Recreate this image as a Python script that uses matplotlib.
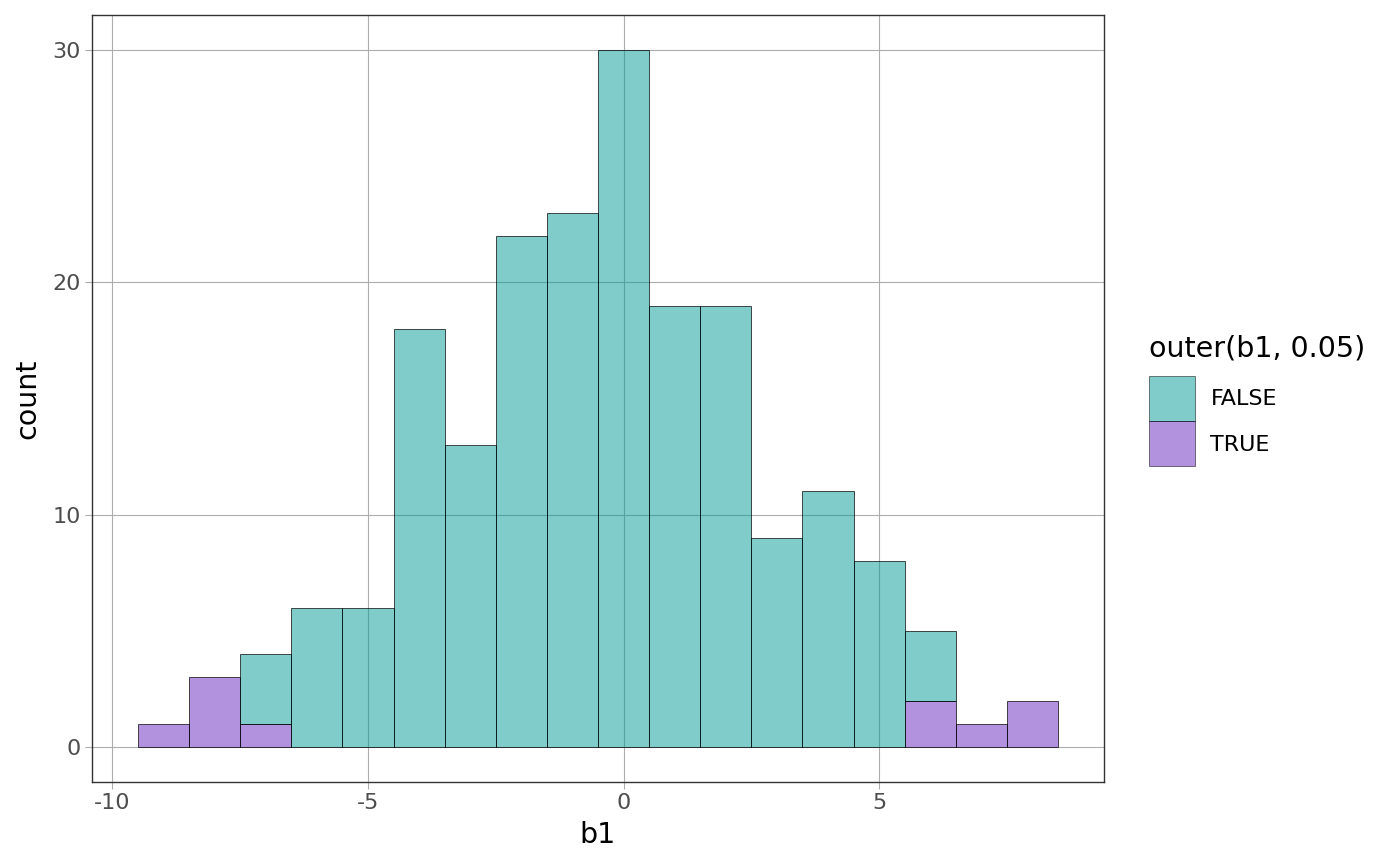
import numpy as np
import matplotlib.pyplot as plt
from matplotlib.patches import Patch

plt.rcParams['font.family'] = ['DejaVu Sans']
plt.rcParams['axes.unicode_minus'] = False

# bin centres (width 1) and counts per group
centres = [-9, -8, -7, -6, -5, -4, -3, -2, -1, 0, 1, 2, 3, 4, 5, 6, 7, 8]
n_true = [1, 3, 1, 0, 0, 0, 0, 0, 0, 0, 0, 0, 0, 0, 0, 2, 1, 2]
n_false = [0, 0, 3, 6, 6, 18, 13, 22, 23, 30, 19, 19, 9, 11, 8, 3, 0, 0]
groups = ['FALSE', 'TRUE']

teal = (0 / 255, 155 / 255, 151 / 255, 0.5)
purple = (103 / 255, 37 / 255, 193 / 255, 0.5)
edge = (0, 0, 0, 0.7)

fig = plt.figure(figsize=(14, 8.66), dpi=100)
ax = fig.add_axes([92 / 1400, 1 - 782 / 866, (1104 - 92) / 1400, (782 - 15) / 866])

x = np.array(centres)
t = np.array(n_true)
f = np.array(n_false)

# TRUE at the bottom, FALSE stacked on top (zero-height bars skipped)
mt = t > 0
ax.bar(x[mt], t[mt], width=1, color=purple, edgecolor=edge, linewidth=0.7, zorder=2)
mf = f > 0
ax.bar(x[mf], f[mf], bottom=t[mf], width=1, color=teal, edgecolor=edge, linewidth=0.7, zorder=2)

ax.set_xlim(-10.4, 9.4)
ax.set_ylim(-1.5, 31.5)
ax.set_xticks([-10, -5, 0, 5])
ax.set_yticks([0, 10, 20, 30])
ax.grid(True, color='#adadad', linewidth=0.8, zorder=1)
ax.set_axisbelow(True)
ax.tick_params(colors='#adadad', labelcolor='#4d4d4d', labelsize=16, length=5, width=0.8, pad=3)
for s in ax.spines.values():
    s.set_color('#333333')
    s.set_linewidth(1.0)

ax.set_xlabel('b1', fontsize=20.5, labelpad=6)
ax.set_ylabel('count', fontsize=20.5, labelpad=8)

handles = [Patch(facecolor=teal, edgecolor=(0, 0, 0, 0.5), linewidth=0.7),
           Patch(facecolor=purple, edgecolor=(0, 0, 0, 0.5), linewidth=0.7)]
leg = ax.legend(handles, groups, title='outer(b1, 0.05)', loc='center left',
                bbox_to_anchor=(1.036, 0.4975), frameon=False, fontsize=16,
                title_fontsize=20.5, handlelength=2.07, handleheight=2.74,
                labelspacing=0, handletextpad=0.68, borderaxespad=0,
                alignment='left')
# a bit more room between the legend title and the keys
leg._legend_box.sep = 10

fig.savefig('out.png', dpi=100)
